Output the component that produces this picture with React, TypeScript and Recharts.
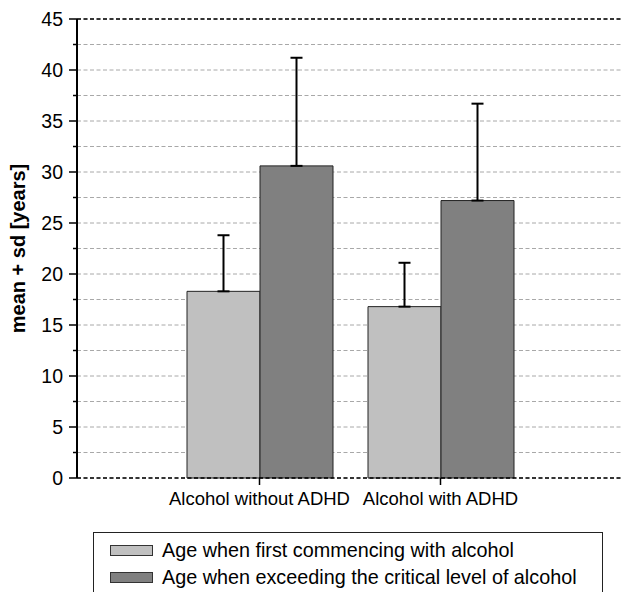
import React from 'react';
import { BarChart, Bar, XAxis, YAxis, CartesianGrid, ErrorBar, Legend, ReferenceLine } from 'recharts';

const categories = ['Alcohol without ADHD', 'Alcohol with ADHD'];
const firstAlcoholMean = [18.3, 16.8];
const firstAlcoholSd = [5.5, 4.3];
const criticalLevelMean = [30.6, 27.2];
const criticalLevelSd = [10.6, 9.5];
const seriesNames = [
  'Age when first commencing with alcohol',
  'Age when exceeding the critical level of alcohol',
];
const seriesColors = ['#c0c0c0', '#808080'];
const yTicks = [0, 2.5, 5, 7.5, 10, 12.5, 15, 17.5, 20, 22.5, 25, 27.5, 30, 32.5, 35, 37.5, 40, 42.5, 45];
const yLabel = 'mean + sd [years]';

const data = categories.map((c, i) => ({
  name: c,
  first: firstAlcoholMean[i],
  firstErr: [0, firstAlcoholSd[i]],
  critical: criticalLevelMean[i],
  criticalErr: [0, criticalLevelSd[i]],
}));

const FONT = '"Liberation Sans", Arial, sans-serif';

const YTick = (props: any) => {
  const { x, y, payload } = props;
  const v = payload.value;
  const major = v % 5 === 0;
  return (
    <g>
      <line x1={x - (major ? 8 : 4)} x2={x} y1={y} y2={y} stroke="#000" strokeWidth={1.5} />
      {major && (
        <text x={x - 14} y={y} textAnchor="end" dominantBaseline="central" fontSize={19.5} fontFamily={FONT} fill="#000">
          {v}
        </text>
      )}
    </g>
  );
};

const XTick = (props: any) => {
  const { x, y, payload } = props;
  return (
    <text x={x} y={y + 20} textAnchor="middle" fontSize={18.5} fontFamily={FONT} fill="#000">
      {payload.value}
    </text>
  );
};

const renderLegend = () => (
  <div
    style={{
      boxSizing: 'border-box',
      width: 510,
      height: 60,
      border: '1.5px solid #222',
      borderBottom: 'none',
      paddingTop: 4,
      paddingLeft: 16,
      fontFamily: FONT,
      fontSize: 19.8,
      color: '#000',
    }}
  >
    {seriesNames.map((n, i) => (
      <div key={n} style={{ display: 'flex', alignItems: 'center', height: 27 }}>
        <span
          style={{
            display: 'inline-block',
            boxSizing: 'border-box',
            width: 43,
            height: 11,
            background: seriesColors[i],
            border: '1.5px solid #333',
            marginRight: 9,
          }}
        />
        <span style={{ whiteSpace: 'nowrap' }}>{n}</span>
      </div>
    ))}
  </div>
);

export default function App() {
  return (
    <div style={{ position: 'absolute', left: 0, top: 0, width: 622, height: 592, overflow: 'hidden', background: '#fff' }}>
      <BarChart
        width={622}
        height={592}
        data={data}
        margin={{ top: 19, right: 0, left: 0, bottom: 84 }}
        barGap={0}
        barCategoryGap={18}
      >
        <CartesianGrid vertical={false} stroke="#a8a8a8" strokeDasharray="4 2.5" />
        <ReferenceLine y={45} stroke="#000" strokeDasharray="4 2.5" strokeWidth={1.5} />
        <XAxis
          dataKey="name"
          height={30}
          padding={{ left: 92, right: 91 }}
          axisLine={{ stroke: '#000', strokeDasharray: '4 2.5', strokeWidth: 1.5 }}
          tickLine={{ stroke: '#000', strokeWidth: 1.5 }}
          tickSize={7}
          tickMargin={0}
          tick={<XTick />}
          interval={0}
        />
        <YAxis
          width={77}
          domain={[0, 45]}
          ticks={yTicks}
          interval={0}
          axisLine={{ stroke: '#000', strokeWidth: 2 }}
          tickLine={false}
          tickSize={0}
          tickMargin={0}
          tick={<YTick />}
          label={{
            content: (p: any) => {
              const vb = p.viewBox;
              const cx = vb.x + 18;
              const cy = vb.y + vb.height / 2;
              return (
                <text
                  x={cx}
                  y={cy}
                  transform={`rotate(-90, ${cx}, ${cy})`}
                  textAnchor="middle"
                  dominantBaseline="central"
                  fontWeight="bold"
                  fontSize={20}
                  fontFamily={FONT}
                  fill="#000"
                >
                  {yLabel}
                </text>
              );
            },
          }}
        />
        <Legend
          layout="vertical"
          align="center"
          verticalAlign="middle"
          wrapperStyle={{ left: 93, top: 532, width: 510, height: 60 }}
          content={renderLegend}
        />
        <Bar dataKey="first" name={seriesNames[0]} fill={seriesColors[0]} stroke="#222" strokeWidth={1} isAnimationActive={false}>
          <ErrorBar dataKey="firstErr" direction="y" width={6} stroke="#000" strokeWidth={2} />
        </Bar>
        <Bar dataKey="critical" name={seriesNames[1]} fill={seriesColors[1]} stroke="#222" strokeWidth={1} isAnimationActive={false}>
          <ErrorBar dataKey="criticalErr" direction="y" width={6} stroke="#000" strokeWidth={2} />
        </Bar>
      </BarChart>
    </div>
  );
}
